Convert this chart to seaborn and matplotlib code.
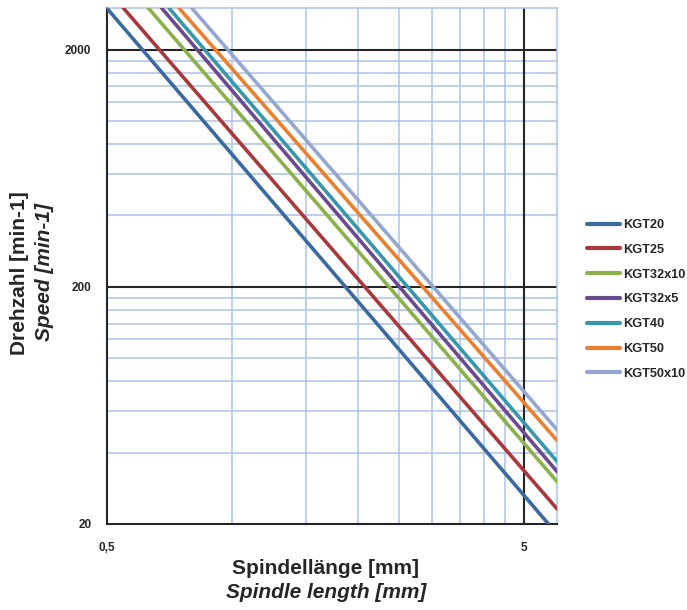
import matplotlib
matplotlib.use("Agg")
import matplotlib.pyplot as plt
import seaborn as sns
import pandas as pd
from matplotlib.ticker import FixedLocator, NullFormatter

# ---- data ----
series = ["KGT20", "KGT25", "KGT32x10", "KGT32x5", "KGT40", "KGT50", "KGT50x10"]
length_start = [0.50, 0.548, 0.629, 0.677, 0.705, 0.745, 0.799]
speed_start = [3000, 3000, 3000, 3000, 3000, 3000, 3000]
length_end = [6.0, 6.0, 6.0, 6.0, 6.0, 6.0, 6.0]
speed_end = [18.1, 23.1, 30.1, 33.2, 36.6, 44.9, 49.8]
colors = ["#3B6AA0", "#A8393A", "#8CB04A", "#6B4B8E", "#3797AB", "#E8802F", "#93A7D1"]

x_major = [0.5, 5]
x_major_labels = ["0,5", "5"]
x_minor = [1, 1.5, 2, 2.5, 3, 3.5, 4, 4.5]
y_major = [20, 200, 2000]
y_major_labels = ["20", "200", "2000"]
y_minor = [40, 60, 80, 100, 120, 140, 160, 180,
           400, 600, 800, 1000, 1200, 1400, 1600, 1800]

rows = []
for s, x0, y0, x1, y1 in zip(series, length_start, speed_start, length_end, speed_end):
    rows.append({"series": s, "length": x0, "speed": y0})
    rows.append({"series": s, "length": x1, "speed": y1})
df = pd.DataFrame(rows)

sns.set_theme(style="white")
plt.rcParams["font.family"] = ["Liberation Sans", "DejaVu Sans"]

fig = plt.figure(figsize=(6.87, 6.10), dpi=100)
ax = fig.add_axes([106.7 / 687, 1 - 524 / 610, (557.3 - 106.7) / 687, (524 - 8) / 610])

grid_blue = "#A9C3E8"
ax.set_xscale("log")
ax.set_yscale("log")
ax.set_xlim(0.5, 6.0)
ax.set_ylim(20, 3000)

# grid
for xv in x_minor:
    ax.axvline(xv, color=grid_blue, lw=1.1, zorder=0)
for yv in y_minor:
    ax.axhline(yv, color=grid_blue, lw=1.1, zorder=0)
for xv in x_major[1:]:
    ax.axvline(xv, color="#262626", lw=1.5, zorder=0.5)
for yv in y_major[1:]:
    ax.axhline(yv, color="#262626", lw=1.5, zorder=0.5)

sns.lineplot(data=df, x="length", y="speed", hue="series", hue_order=series,
             palette=dict(zip(series, colors)), lw=2.6, ax=ax, zorder=3,
             estimator=None, sort=False)

ax.xaxis.set_major_locator(FixedLocator(x_major))
ax.xaxis.set_minor_locator(FixedLocator([]))
ax.set_xticks(x_major)
ax.set_xticklabels(x_major_labels, fontsize=8.5, fontweight="bold")
ax.yaxis.set_major_locator(FixedLocator(y_major))
ax.yaxis.set_minor_locator(FixedLocator([]))
ax.yaxis.set_minor_formatter(NullFormatter())
ax.set_yticks(y_major)
ax.set_yticklabels(y_major_labels, fontsize=8.5, fontweight="bold")
ax.tick_params(axis="both", which="major", direction="out", length=4, width=1.3,
               color="#262626", labelcolor="#262626")
ax.tick_params(axis="x", pad=9)
ax.tick_params(axis="y", pad=7)
ax.set_xlabel("")
ax.set_ylabel("")

for side in ["left", "bottom"]:
    ax.spines[side].set_color("#262626")
    ax.spines[side].set_linewidth(1.5)
for side in ["top", "right"]:
    ax.spines[side].set_color(grid_blue)
    ax.spines[side].set_linewidth(1.1)

# legend
leg = ax.legend(loc="upper left", bbox_to_anchor=(582 / 687, 1 - 214 / 610),
                bbox_transform=fig.transFigure, frameon=False,
                prop={"size": 9.2, "weight": "bold"}, handlelength=2.6,
                handletextpad=0.2, labelspacing=1.0, borderaxespad=0)
for h in leg.get_lines():
    h.set_linewidth(3)
for t in leg.get_texts():
    t.set_color("#262626")

# axis titles
fig.text(326 / 687, 1 - 569 / 610, "Spindellänge [mm]", ha="center", va="center",
         fontsize=15, fontweight="bold", color="#262626")
fig.text(326 / 687, 1 - 593 / 610, "Spindle length [mm]", ha="center", va="center",
         fontsize=15, fontweight="bold", style="italic", color="#262626")
fig.text(20 / 687, 1 - 273 / 610, "Drehzahl [min-1]", ha="center", va="center",
         rotation=90, fontsize=15, fontweight="bold", color="#262626")
fig.text(45 / 687, 1 - 272 / 610, "Speed [min-1]", ha="center", va="center",
         rotation=90, fontsize=15, fontweight="bold", style="italic", color="#262626")

fig.savefig("out.png", dpi=100)
